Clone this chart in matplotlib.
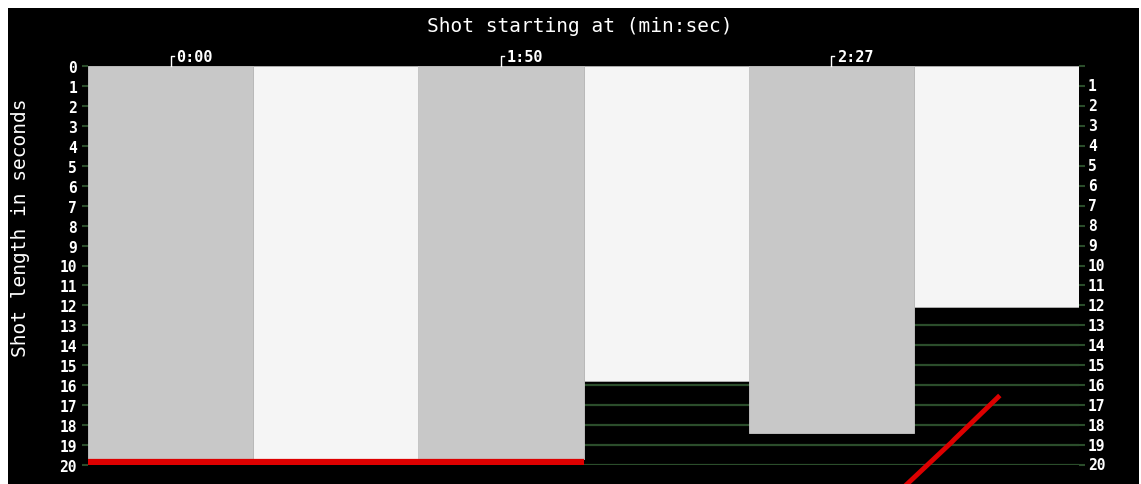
import matplotlib
matplotlib.use("Agg")
import matplotlib.pyplot as plt
from matplotlib.patches import Rectangle
import matplotlib.transforms as mtransforms

# ---- data ----
shot_lengths = [19.7, 19.7, 19.7, 15.8, 18.4, 12.1]
bar_colors = ["#c8c8c8", "#f5f5f5", "#c8c8c8", "#f5f5f5", "#c8c8c8", "#f5f5f5"]
top_tick_positions = [0, 2, 4]
top_tick_labels = ["0:00", "1:50", "2:27"]
y_ticks = list(range(0, 21))
red_flat_x = [-0.5, 2.5]
red_flat_y = [19.85, 19.85]
red_diag_x = [4.46, 4.73, 4.745, 5.01]
red_diag_y = [20.95, 18.85, 18.72, 16.6]

W, H = 1141, 485
fig = plt.figure(figsize=(W / 100, H / 100), dpi=100, facecolor="white")
fig.patches.append(Rectangle((8 / W, 0), (1139 - 8) / W, (485 - 9) / H,
                             transform=fig.transFigure, facecolor="black",
                             edgecolor="none", zorder=-10))

ax = fig.add_axes([88 / W, 1 - 466 / H, (1079 - 88) / W, (466 - 67) / H])
ax.set_facecolor("black")
ax.patch.set_alpha(0)

green = "#2b4d2b"
mono = "DejaVu Sans Mono"

x = list(range(len(shot_lengths)))
# grid lines (behind bars)
for yv in y_ticks[1:]:
    ax.axhline(yv, color=green, lw=1.6, zorder=0)

for xi, h, c in zip(x, shot_lengths, bar_colors):
    ax.bar(xi, h, width=1.0, bottom=0, color=c,
           edgecolor="#b4b4b4" if c == "#f5f5f5" else c, linewidth=0.6, zorder=2)

ax.plot(red_flat_x, red_flat_y, color="#dd0000", lw=4.5, solid_capstyle="butt", zorder=3)
ax.plot(red_diag_x, red_diag_y, color="#dd0000", lw=3.5, zorder=3, clip_on=False)

ax.set_xlim(-0.5, len(shot_lengths) - 0.5)
ax.set_ylim(20, 0)

for s in ax.spines.values():
    s.set_visible(False)

ax.set_yticks(y_ticks)
ax.set_yticklabels([str(v) for v in y_ticks], family=mono, fontsize=10.5,
                   color="white", fontweight="bold")
ax.tick_params(axis="y", which="both", left=True, right=True, labelleft=True,
               labelright=False, color=green, length=4, width=1.5, pad=4)
ax.set_xticks([])

# right-side labels (no 0)
trans_r = mtransforms.blended_transform_factory(ax.transAxes, ax.transData)
for v in y_ticks[1:]:
    ax.text(1.0 + 9 / (1079 - 88), v, str(v), transform=trans_r, family=mono,
            fontsize=10.5, color="white", ha="left", va="center", fontweight="bold")

# top ticks with corner marks
trans_t = mtransforms.blended_transform_factory(ax.transData, ax.transAxes)
px = 1 / (466 - 67)
for pos, lab in zip(top_tick_positions, top_tick_labels):
    ax.plot([pos, pos, pos + 0.018], [1.0, 1.0 + 10 * px, 1.0 + 10 * px],
            transform=trans_t, color="white", lw=1.0, clip_on=False)
    ax.text(pos + 0.035, 1.0 + 2 * px, lab, transform=trans_t, family=mono,
            fontsize=11, color="white", ha="left", va="bottom", fontweight="bold")

fig.text(580 / W, 1 - 26 / H, "Shot starting at (min:sec)", family=mono,
         fontsize=14, color="white", ha="center", va="center")
fig.text(21 / W, 1 - 228 / H, "Shot length in seconds", family=mono,
         fontsize=14, color="white", ha="center", va="center", rotation=90)

fig.savefig("out.png", dpi=100, facecolor="white")
